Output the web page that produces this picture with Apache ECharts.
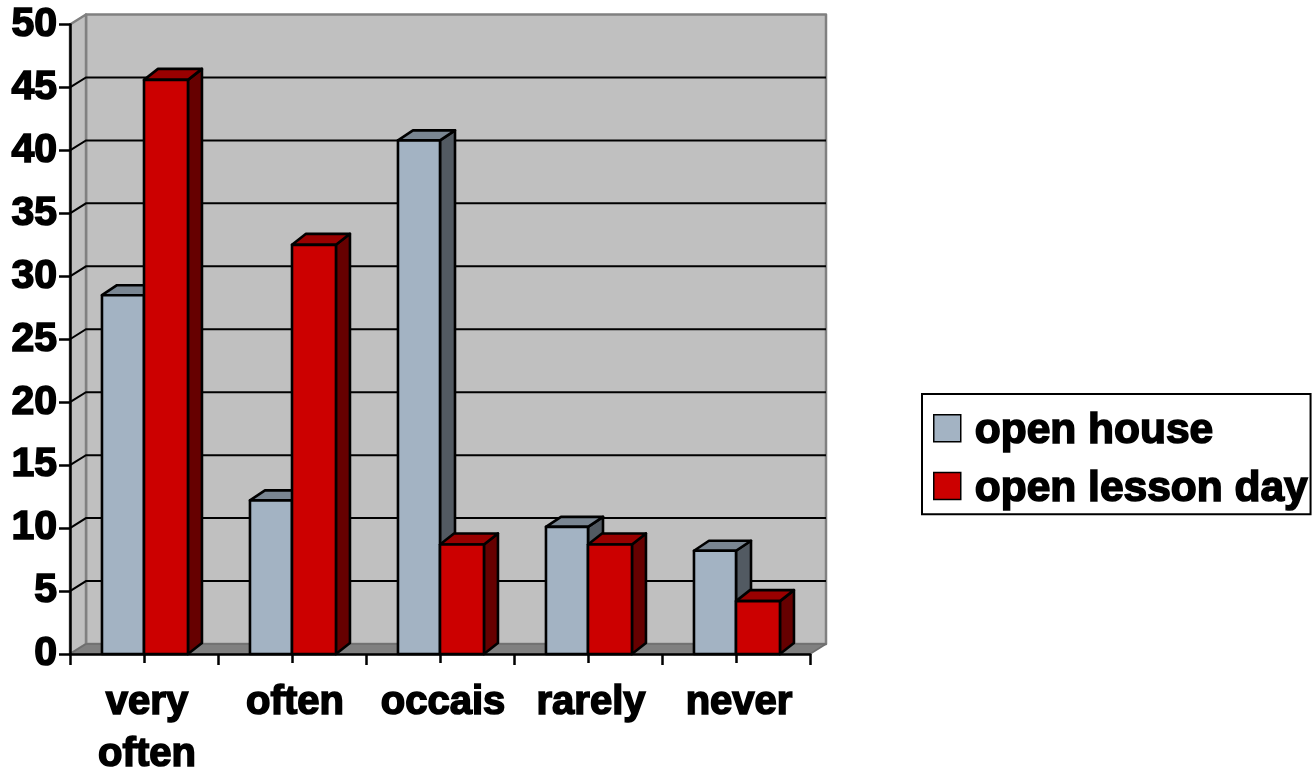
<!DOCTYPE html>
<html>
<head>
<meta charset="utf-8">
<style>html,body{margin:0;padding:0;background:#fff}#chart{width:1315px;height:774px}</style>
<script src="https://cdn.jsdelivr.net/npm/echarts@6/dist/echarts.min.js"></script>
</head>
<body>
<div id="chart"></div>
<script>
const categories = ['very\noften', 'often', 'occais', 'rarely', 'never'];
const openHouse = [28.5, 12.2, 40.8, 10.1, 8.2];
const openLessonDay = [45.6, 32.5, 8.7, 8.7, 4.2];
const yTicks = [5, 10, 15, 20, 25, 30, 35, 40, 45];

const FONT = '"Liberation Sans", Arial, sans-serif';
const DEPTH_X = 16, DEPTH_Y = 10;

function poly(points, fill, stroke, width) {
  return { type: 'polygon', shape: { points }, style: { fill, stroke, lineWidth: width, lineJoin: 'round' } };
}

// Left and right limits of the plot, taken from the outer category bands
function plotEdges(api, v) {
  const band = api.size([1, 0])[0];
  const first = api.coord([0, v]);
  const last = api.coord([categories.length - 1, v]);
  return [[first[0] - band / 2, first[1]], [last[0] + band / 2, last[1]]];
}

// Back wall, side wall and floor of the 3D box
function renderBox(params, api) {
  const [a, b] = plotEdges(api, 0);
  const [t, tr] = plotEdges(api, 50);
  const back = (p) => [p[0] + DEPTH_X, p[1] - DEPTH_Y];
  return {
    type: 'group',
    children: [
      poly([back(t), back(tr), back(b), back(a)], '#C0C0C0', '#808080', 2.5),
      poly([a, t, back(t), back(a)], '#C0C0C0', '#808080', 2.5),
      poly([a, back(a), back(b), b], '#808080', '#6e6e6e', 1.5)
    ]
  };
}

// One gridline: a diagonal on the side wall, then across the back wall
function renderGrid(params, api) {
  const [l, r] = plotEdges(api, api.value(1));
  const y = l[1] - DEPTH_Y;
  return {
    type: 'polyline',
    shape: { points: [l, [l[0] + DEPTH_X, y], [r[0] + DEPTH_X, y]] },
    style: { fill: 'none', stroke: '#000', lineWidth: 2 }
  };
}

function barRenderer(side, fraction, front, top, dark, dx, dy) {
  return function (params, api) {
    const i = api.value(0);
    const base = api.coord([i, 0]);
    const head = api.coord([i, api.value(1)]);
    const w = api.size([1, 0])[0] * fraction;
    const x0 = side < 0 ? base[0] - w : base[0];
    const x1 = side < 0 ? base[0] : base[0] + w;
    const y0 = head[1], y1 = base[1];
    return {
      type: 'group',
      children: [
        poly([[x1, y0], [x1 + dx, y0 - dy], [x1 + dx, y1 - dy], [x1, y1]], dark, '#000', 2.6),
        poly([[x0, y0], [x0 + dx, y0 - dy], [x1 + dx, y0 - dy], [x1, y0]], top, '#000', 2.6),
        poly([[x0, y0], [x1, y0], [x1, y1], [x0, y1]], front, '#000', 2.6)
      ]
    };
  };
}

const heavyText = { fontFamily: FONT, fontWeight: 'bold', fontSize: 40, color: '#000',
  textBorderColor: '#000', textBorderWidth: 1.6 };
const axisStroke = { color: '#000', width: 2.5 };

const chart = echarts.init(document.getElementById('chart'));
chart.setOption({
  backgroundColor: '#fff',
  animation: false,
  grid: { left: 70, top: 24.5, width: 740, height: 629.5, outerBoundsMode: 'none' },
  legend: {
    left: 922, top: 394,
    orient: 'vertical',
    padding: [15, 2, 3, 11],
    itemGap: 13,
    itemWidth: 27,
    itemHeight: 27,
    backgroundColor: '#fff',
    borderColor: '#000',
    borderWidth: 2,
    borderRadius: 0,
    data: [
      { name: 'open house', icon: 'rect', itemStyle: { color: '#A3B3C3', borderColor: '#000', borderWidth: 1.5 } },
      { name: 'open lesson day', icon: 'rect', itemStyle: { color: '#CC0000', borderColor: '#000', borderWidth: 1.5 } }
    ],
    formatter: '{t|{name}}',
    textStyle: Object.assign({}, heavyText, {
      fontSize: 42.5,
      rich: { t: Object.assign({}, heavyText, { fontSize: 42.5, padding: [6, 0, 0, 9] }) }
    })
  },
  xAxis: [
    {
      type: 'category', data: categories, position: 'bottom',
      axisLine: { show: true, lineStyle: axisStroke },
      axisTick: { show: true, alignWithLabel: false, length: 11, lineStyle: axisStroke },
      axisLabel: Object.assign({}, heavyText, { interval: 0, margin: 23, lineHeight: 52, padding: [0, 0, 0, 6] }),
      splitLine: { show: false }
    },
    {
      type: 'category', data: categories, position: 'bottom',
      axisLine: { show: false },
      axisTick: { show: true, alignWithLabel: true, length: 9, lineStyle: axisStroke },
      axisLabel: { show: false },
      splitLine: { show: false }
    }
  ],
  yAxis: {
    type: 'value', min: 0, max: 50, interval: 5,
    axisLine: { show: true, lineStyle: axisStroke },
    axisTick: { show: true, length: 11, lineStyle: axisStroke },
    axisLabel: Object.assign({}, heavyText, { fontSize: 41, margin: 13 }),
    splitLine: { show: false }
  },
  series: [
    { type: 'custom', name: 'box', silent: true, z: 0, clip: false, renderItem: renderBox, data: [[0, 0]], encode: { x: 0, y: 1 } },
    { type: 'custom', name: 'grid', silent: true, z: 1, clip: false, renderItem: renderGrid,
      data: yTicks.map((v) => [0, v]), encode: { x: 0, y: 1 } },
    { type: 'custom', name: 'open house', z: 2, clip: false,
      itemStyle: { color: '#A3B3C3' },
      renderItem: barRenderer(-1, 0.284, '#A3B3C3', '#7A8692', '#525A62', 15, 10),
      data: openHouse.map((v, i) => [i, v]), encode: { x: 0, y: 1 } },
    { type: 'custom', name: 'open lesson day', z: 3, clip: false,
      itemStyle: { color: '#CC0000' },
      renderItem: barRenderer(1, 0.297, '#CC0000', '#990000', '#660000', 14, 11),
      data: openLessonDay.map((v, i) => [i, v]), encode: { x: 0, y: 1 } }
  ]
});
</script>
</body>
</html>
